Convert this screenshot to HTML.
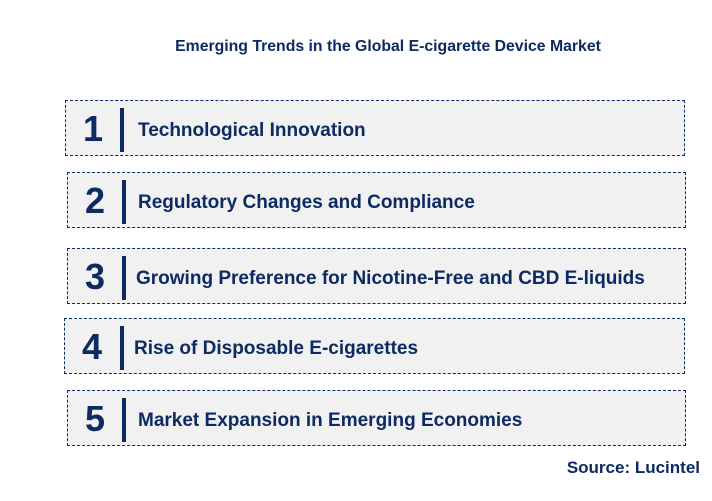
<!DOCTYPE html>
<html><head><style>
body{margin:0;width:712px;height:501px;background:#fff;position:relative;font-family:"Liberation Sans",Arial,sans-serif;overflow:hidden}
.t{position:absolute;top:38px;left:0;width:776px;text-align:center;font-weight:bold;font-size:15.8px;color:#0d2a63}
.b{position:absolute;height:53px;background:#f1f1f1;border:1px dashed #0d2a63;box-sizing:border-box}
.n{position:absolute;left:0;width:54px;text-align:center;top:7px;font-size:36px;font-weight:bold;color:#0d2a63;line-height:42px}
.bar{position:absolute;left:54px;top:7px;width:4px;height:44px;background:#0d2a63}
.x{position:absolute;top:19px;font-size:19px;font-weight:bold;color:#0d2a63;white-space:nowrap}
.s{position:absolute;right:12px;top:458px;font-size:17px;font-weight:bold;color:#0d2a63}
</style></head><body>
<div class="t">Emerging Trends in the Global E-cigarette Device Market</div>
<div class="b" style="left:65px;top:100px;width:620px;height:56px"><div class="n">1</div><div class="bar"></div><div class="x" style="left:72px">Technological Innovation</div></div>
<div class="b" style="left:67px;top:172px;width:619px;height:56px"><div class="n">2</div><div class="bar"></div><div class="x" style="left:70px">Regulatory Changes and Compliance</div></div>
<div class="b" style="left:67px;top:248px;width:619px;height:56px"><div class="n">3</div><div class="bar"></div><div class="x" style="left:68px">Growing Preference for Nicotine-Free and CBD E-liquids</div></div>
<div class="b" style="left:64px;top:318px;width:621px;height:56px"><div class="n">4</div><div class="bar" style="left:55px"></div><div class="x" style="left:69px">Rise of Disposable E-cigarettes</div></div>
<div class="b" style="left:67px;top:390px;width:619px;height:56px"><div class="n">5</div><div class="bar"></div><div class="x" style="left:70px">Market Expansion in Emerging Economies</div></div>
<div class="s">Source: Lucintel</div>
</body></html>
